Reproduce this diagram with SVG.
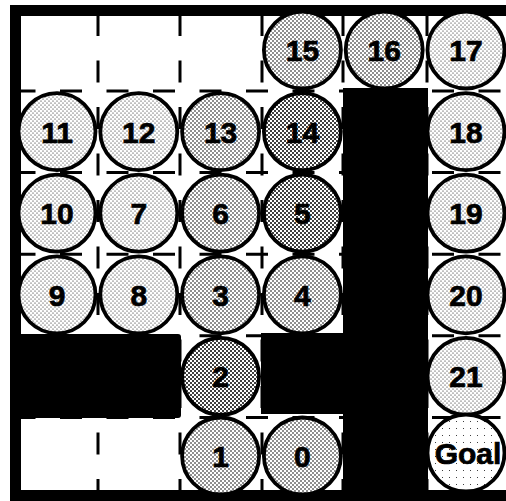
<svg xmlns="http://www.w3.org/2000/svg" width="506" height="501" viewBox="0 0 506 501">
<style>
.grid{stroke:#000;stroke-width:3;stroke-dasharray:22 24.5;fill:none}
.blk{fill:#000}
.c{stroke:#000;stroke-width:3.8}
.l{fill:url(#pl)}
.m{fill:url(#pm)}
.d{fill:url(#pd)}
.g{fill:url(#pg)}
text{font-family:"Liberation Sans",Arial,Helvetica,sans-serif;font-weight:700;font-size:30px;text-anchor:middle;fill:#000;stroke:#000;stroke-width:0.7}
</style>
<defs>
<pattern id="pg" width="7" height="7" patternUnits="userSpaceOnUse"><rect width="7" height="7" fill="#fff"/><circle cx="1.5" cy="1.5" r="0.5" fill="#000"/></pattern>
<pattern id="pl" width="4" height="4" patternUnits="userSpaceOnUse"><rect width="4" height="4" fill="#fff"/><circle cx="1" cy="1" r="0.55" fill="#000"/><circle cx="3" cy="3" r="0.55" fill="#000"/></pattern>
<pattern id="pm" width="4" height="4" patternUnits="userSpaceOnUse"><rect width="4" height="4" fill="#fff"/><circle cx="1" cy="1" r="0.8" fill="#000"/><circle cx="3" cy="3" r="0.8" fill="#000"/></pattern>
<pattern id="pd" width="4" height="4" patternUnits="userSpaceOnUse"><rect width="4" height="4" fill="#fff"/><circle cx="1" cy="1" r="1.0" fill="#000"/><circle cx="3" cy="3" r="1.0" fill="#000"/></pattern>
</defs>
<rect width="506" height="501" fill="#fff"/>
<g id="grid">
<line class="grid" x1="98" y1="14" x2="98" y2="490"/>
<line class="grid" x1="180" y1="14" x2="180" y2="490"/>
<line class="grid" x1="262" y1="14" x2="262" y2="490"/>
<line class="grid" x1="343" y1="14" x2="343" y2="490"/>
<line class="grid" x1="427" y1="14" x2="427" y2="490"/>
<line class="grid" x1="13.5" y1="91" x2="506" y2="91"/>
<line class="grid" x1="13.5" y1="172.6" x2="506" y2="172.6"/>
<line class="grid" x1="13.5" y1="254.2" x2="506" y2="254.2"/>
<line class="grid" x1="13.5" y1="335.8" x2="506" y2="335.8"/>
<line class="grid" x1="13.5" y1="417.4" x2="506" y2="417.4"/>
</g>
<g id="walls">
<rect class="blk" x="10" y="5" width="496" height="11"/>
<rect class="blk" x="10" y="5" width="11" height="496"/>
<rect class="blk" x="10" y="490" width="496" height="11"/>
<rect class="blk" x="10" y="334" width="171" height="84" rx="3"/>
<rect class="blk" x="261" y="333" width="84" height="81"/>
<rect class="blk" x="343" y="88" width="85" height="413"/>
</g>
<g id="n15"><circle class="c m" cx="302.4" cy="50" r="38.5"/><text x="302.4" y="61">15</text></g>
<g id="n16"><circle class="c m" cx="384.2" cy="50" r="38.5"/><text x="384.2" y="61">16</text></g>
<g id="n17"><circle class="c l" cx="466" cy="50" r="38.5"/><text x="466" y="61">17</text></g>
<g id="n11"><circle class="c l" cx="57" cy="131.6" r="38.5"/><text x="57" y="142.6">11</text></g>
<g id="n12"><circle class="c l" cx="138.8" cy="131.6" r="38.5"/><text x="138.8" y="142.6">12</text></g>
<g id="n13"><circle class="c m" cx="220.6" cy="131.6" r="38.5"/><text x="220.6" y="142.6">13</text></g>
<g id="n14"><circle class="c d" cx="302.4" cy="131.6" r="38.5"/><text x="302.4" y="142.6">14</text></g>
<g id="n18"><circle class="c l" cx="466" cy="131.6" r="38.5"/><text x="466" y="142.6">18</text></g>
<g id="n10"><circle class="c l" cx="57" cy="213.2" r="38.5"/><text x="57" y="224.2">10</text></g>
<g id="n7"><circle class="c l" cx="138.8" cy="213.2" r="38.5"/><text x="138.8" y="224.2">7</text></g>
<g id="n6"><circle class="c m" cx="220.6" cy="213.2" r="38.5"/><text x="220.6" y="224.2">6</text></g>
<g id="n5"><circle class="c d" cx="302.4" cy="213.2" r="38.5"/><text x="302.4" y="224.2">5</text></g>
<g id="n19"><circle class="c l" cx="466" cy="213.2" r="38.5"/><text x="466" y="224.2">19</text></g>
<g id="n9"><circle class="c l" cx="57" cy="294.8" r="38.5"/><text x="57" y="305.8">9</text></g>
<g id="n8"><circle class="c l" cx="138.8" cy="294.8" r="38.5"/><text x="138.8" y="305.8">8</text></g>
<g id="n3"><circle class="c m" cx="220.6" cy="294.8" r="38.5"/><text x="220.6" y="305.8">3</text></g>
<g id="n4"><circle class="c m" cx="302.4" cy="294.8" r="38.5"/><text x="302.4" y="305.8">4</text></g>
<g id="n20"><circle class="c l" cx="466" cy="294.8" r="38.5"/><text x="466" y="305.8">20</text></g>
<g id="n2"><circle class="c d" cx="220.6" cy="376.4" r="38.5"/><text x="220.6" y="387.4">2</text></g>
<g id="n21"><circle class="c l" cx="466" cy="376.4" r="38.5"/><text x="466" y="387.4">21</text></g>
<g id="n1"><circle class="c m" cx="220.6" cy="456" r="38.5"/><text x="220.6" y="467">1</text></g>
<g id="n0"><circle class="c m" cx="302.4" cy="456" r="38.5"/><text x="302.4" y="467">0</text></g>
<g id="goal"><circle class="c g" cx="466" cy="453" r="38.5"/><text x="468" y="464">Goal</text></g>
</svg>
